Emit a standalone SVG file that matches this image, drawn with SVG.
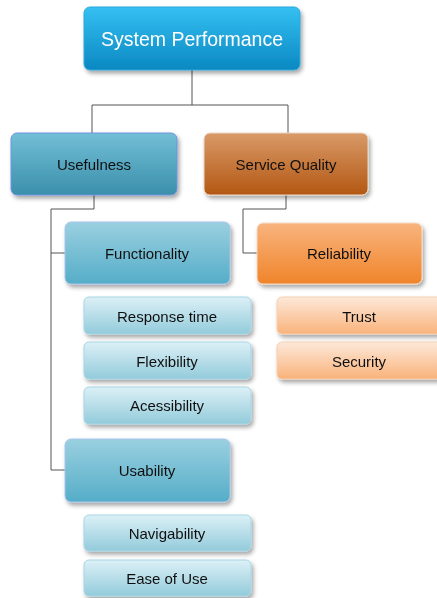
<svg xmlns="http://www.w3.org/2000/svg" width="437" height="598" viewBox="0 0 437 598">
<defs>
<linearGradient id="gTop" x1="0" y1="0" x2="0" y2="1"><stop offset="0" stop-color="#35c0f2"/><stop offset="1" stop-color="#0a88c2"/></linearGradient>
<linearGradient id="gUse" x1="0" y1="0" x2="0" y2="1"><stop offset="0" stop-color="#72bfd6"/><stop offset="1" stop-color="#3b8fab"/></linearGradient>
<linearGradient id="gSQ" x1="0" y1="0" x2="0" y2="1"><stop offset="0" stop-color="#d99a68"/><stop offset="1" stop-color="#b35712"/></linearGradient>
<linearGradient id="gL2b" x1="0" y1="0" x2="0" y2="1"><stop offset="0" stop-color="#9ad0e0"/><stop offset="1" stop-color="#55adc8"/></linearGradient>
<linearGradient id="gL2o" x1="0" y1="0" x2="0" y2="1"><stop offset="0" stop-color="#f8b47e"/><stop offset="1" stop-color="#f0842a"/></linearGradient>
<linearGradient id="gL3b" x1="0" y1="0" x2="0" y2="1"><stop offset="0" stop-color="#dcf0f6"/><stop offset="1" stop-color="#93cbdb"/></linearGradient>
<linearGradient id="gL3o" x1="0" y1="0" x2="0" y2="1"><stop offset="0" stop-color="#fde9da"/><stop offset="1" stop-color="#f9b27a"/></linearGradient>
<filter id="sh" x="-10%" y="-10%" width="125%" height="135%"><feDropShadow dx="2" dy="3" stdDeviation="2" flood-color="#000" flood-opacity="0.35"/></filter>
</defs>
<style>
.n{filter:url(#sh)}
.t{font-family:"Liberation Sans",Arial,sans-serif;font-size:15px;fill:#111;text-anchor:middle;dominant-baseline:central}
.tt{font-family:"Liberation Sans",Arial,sans-serif;font-size:19.5px;fill:#ffffff;text-anchor:middle;dominant-baseline:central}
.c{fill:none;stroke:#555;stroke-width:1}
.b1{stroke:#6f93de;stroke-width:1}
.b3{stroke:#a6d6e4;stroke-width:1}
.bo{stroke:#f6cfb0;stroke-width:1}
</style>
<g id="connectors">
<path class="c" d="M192,70 V105 M92,105 H288 M92,105 V133 M288,105 V133"/>
<path class="c" d="M94,195 V209 H51 V470 H65 M51,253 H65"/>
<path class="c" d="M286,195 V209 H243 V253 H257"/>
</g>
<g id="system-performance" class="n"><rect x="84" y="7" width="216" height="63" rx="6" fill="url(#gTop)" stroke="#2aa8dc"/><text class="tt" x="192" y="39">System Performance</text></g>
<g id="usefulness" class="n"><rect x="11" y="133" width="166" height="62" rx="6" fill="url(#gUse)" class="b1"/><text class="t" x="94" y="164">Usefulness</text></g>
<g id="service-quality" class="n"><rect x="204" y="133" width="164" height="62" rx="6" fill="url(#gSQ)" stroke="#e8d8c8"/><text class="t" x="286" y="164">Service Quality</text></g>
<g id="functionality" class="n"><rect x="65" y="222" width="165" height="62" rx="6" fill="url(#gL2b)" stroke="#a9c4ec"/><text class="t" x="147" y="253">Functionality</text></g>
<g id="reliability" class="n"><rect x="257" y="223" width="165" height="61" rx="6" fill="url(#gL2o)" stroke="#f5dcc6"/><text class="t" x="339" y="253">Reliability</text></g>
<g id="response-time" class="n"><rect x="84" y="297" width="167" height="37" rx="5" fill="url(#gL3b)" class="b3"/><text class="t" x="167" y="316">Response time</text></g>
<g id="flexibility" class="n"><rect x="84" y="342" width="167" height="37" rx="5" fill="url(#gL3b)" class="b3"/><text class="t" x="167" y="361">Flexibility</text></g>
<g id="acessibility" class="n"><rect x="84" y="387" width="167" height="37" rx="5" fill="url(#gL3b)" class="b3"/><text class="t" x="167" y="405">Acessibility</text></g>
<g id="trust" class="n"><rect x="277" y="297" width="170" height="37" rx="5" fill="url(#gL3o)" class="bo"/><text class="t" x="359" y="316">Trust</text></g>
<g id="security" class="n"><rect x="277" y="342" width="170" height="37" rx="5" fill="url(#gL3o)" class="bo"/><text class="t" x="359" y="361">Security</text></g>
<g id="usability" class="n"><rect x="65" y="439" width="165" height="63" rx="6" fill="url(#gL2b)" stroke="#a9c4ec"/><text class="t" x="147" y="470">Usability</text></g>
<g id="navigability" class="n"><rect x="84" y="515" width="167" height="36" rx="5" fill="url(#gL3b)" class="b3"/><text class="t" x="167" y="533">Navigability</text></g>
<g id="ease-of-use" class="n"><rect x="84" y="560" width="167" height="36" rx="5" fill="url(#gL3b)" class="b3"/><text class="t" x="167" y="578">Ease of Use</text></g>
</svg>
